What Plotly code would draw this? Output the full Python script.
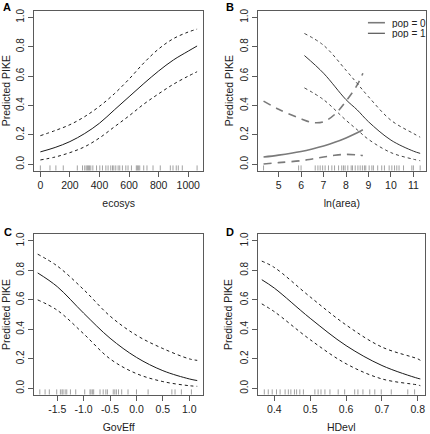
import plotly.graph_objects as go

W, H = 430, 434

# ---------------- data ----------------
# Panel A: ecosys
ecosys_x = [0, 100, 200, 300, 400, 500, 600, 700, 800, 900, 1000, 1060]
ecosys_fit = [0.085, 0.115, 0.155, 0.21, 0.28, 0.37, 0.46, 0.55, 0.635, 0.71, 0.77, 0.805]
ecosys_hi = [0.195, 0.23, 0.27, 0.325, 0.395, 0.48, 0.58, 0.69, 0.785, 0.855, 0.90, 0.92]
ecosys_lo = [0.03, 0.05, 0.08, 0.12, 0.18, 0.255, 0.33, 0.41, 0.48, 0.545, 0.60, 0.63]
ecosys_rug = [0, 65, 105, 155, 250, 285, 300, 310, 318, 325, 332, 341, 355, 380, 402,
              420, 443, 458, 476, 488, 497, 510, 526, 537, 555, 578, 593, 616, 649, 656,
              663, 672, 699, 721, 762, 811, 879, 897, 919, 933, 960, 1060]

# Panel B: ln(area), pop = 1
area1_x = [6.15, 7, 8, 8.5, 9, 10, 11, 11.3]
area1_fit = [0.74, 0.62, 0.44, 0.37, 0.29, 0.165, 0.09, 0.075]
area1_hi = [0.89, 0.81, 0.64, 0.55, 0.46, 0.30, 0.21, 0.185]
area1_lo = [0.52, 0.44, 0.30, 0.235, 0.17, 0.08, 0.035, 0.025]
# Panel B: ln(area), pop = 0
area0_x = [4.33, 5, 6, 6.5, 7, 7.5, 8, 8.5, 8.75]
area0_fit = [0.05, 0.063, 0.088, 0.105, 0.125, 0.15, 0.18, 0.215, 0.235]
area0_hi = [0.43, 0.375, 0.31, 0.285, 0.29, 0.34, 0.43, 0.54, 0.62]
area0_lo = [0.003, 0.012, 0.025, 0.037, 0.05, 0.062, 0.068, 0.064, 0.06]
area_rug = [4.33, 5.89, 6.0, 6.63, 6.75, 6.85, 6.96, 7.07, 7.22, 7.37, 7.49, 7.67, 7.81,
            7.89, 7.96, 8.08, 8.23, 8.29, 8.41, 8.53, 8.63, 8.73, 8.82, 8.88, 9.03, 9.15,
            9.22, 9.41, 9.59, 9.71, 9.92, 10.04, 10.16, 10.26, 10.36, 10.56, 10.93, 11.0, 11.3]

# Panel C: GovEff
gov_x = [-1.87, -1.5, -1.0, -0.5, 0.0, 0.5, 1.0, 1.15]
gov_fit = [0.783, 0.69, 0.51, 0.34, 0.21, 0.12, 0.064, 0.053]
gov_hi = [0.91, 0.83, 0.67, 0.49, 0.36, 0.27, 0.20, 0.19]
gov_lo = [0.60, 0.53, 0.37, 0.20, 0.10, 0.046, 0.018, 0.014]
gov_rug = [-1.83, -1.73, -1.65, -1.51, -1.44, -1.41, -1.39, -1.35, -1.32, -1.25, -1.15,
           -0.98, -0.88, -0.86, -0.83, -0.81, -0.69, -0.63, -0.58, -0.55, -0.44, -0.41,
           -0.38, -0.34, -0.28, -0.16, 0.0, 0.22, 0.67, 0.73, 0.85, 1.04]

# Panel D: HDevl
hd_x = [0.365, 0.4, 0.5, 0.6, 0.7, 0.8, 0.807]
hd_fit = [0.737, 0.68, 0.475, 0.29, 0.155, 0.068, 0.064]
hd_hi = [0.863, 0.82, 0.62, 0.43, 0.28, 0.20, 0.19]
hd_lo = [0.573, 0.52, 0.33, 0.167, 0.064, 0.023, 0.018]
hd_rug = [0.372, 0.383, 0.394, 0.406, 0.416, 0.430, 0.439, 0.446, 0.456, 0.462, 0.471,
          0.481, 0.513, 0.522, 0.530, 0.541, 0.555, 0.578, 0.596, 0.624, 0.633, 0.647,
          0.666, 0.680, 0.698, 0.726, 0.772, 0.791]

y_ticks = [0.0, 0.2, 0.4, 0.6, 0.8, 1.0]
y_ticktext = ["0.0", "0.2", "0.4", "0.6", "0.8", "1.0"]
xA_ticks = [0, 200, 400, 600, 800, 1000]
xB_ticks = [5, 6, 7, 8, 9, 10, 11]
xC_ticks = [-1.5, -1.0, -0.5, 0.0, 0.5, 1.0]
xC_ticktext = ["-1.5", "-1.0", "-0.5", "0.0", "0.5", "1.0"]
xD_ticks = [0.4, 0.5, 0.6, 0.7, 0.8]

panel_letters = ["A", "B", "C", "D"]
x_titles = ["ecosys", "ln(area)", "GovEff", "HDevl"]
y_title = "Predicted PIKE"
legend_labels = ["pop = 0", "pop = 1"]

# ---------------- layout geometry (pixels) ----------------
def xdom(l, r):
    return [l / W, r / W]

def ydom(t, b):
    return [1 - b / H, 1 - t / H]

doms = {
    1: (xdom(34, 203.3), ydom(10.7, 170.7)),
    2: (xdom(257.7, 426), ydom(10.7, 170.7)),
    3: (xdom(34, 203.3), ydom(234.3, 394.7)),
    4: (xdom(257.5, 425), ydom(234.3, 394.7)),
}
xranges = {1: [-43, 1102], 2: [4.07, 11.56], 3: [-1.94, 1.265], 4: [0.353, 0.82]}
YR = [-0.043, 1.045]
RUG_TOP = -0.007

BLACK = "#1a1a1a"
GRAY = "#7a7a7a"
FRAME = "#5a5a5a"
FONT = "Liberation Sans, Arial, sans-serif"
NARROW = "Liberation Sans Narrow, Arial Narrow, Liberation Sans, sans-serif"

fig = go.Figure()

def add_line(i, x, y, color=BLACK, width=1.0, dash="solid"):
    fig.add_trace(go.Scatter(
        x=x, y=y, mode="lines", line=dict(color=color, width=width, dash=dash, shape="spline", smoothing=1.0),
        xaxis="x" if i == 1 else f"x{i}", yaxis="y" if i == 1 else f"y{i}",
        showlegend=False, hoverinfo="skip"))

def add_rug(i, vals):
    xs, ys = [], []
    for v in vals:
        xs += [v, v, None]
        ys += [YR[0], RUG_TOP, None]
    fig.add_trace(go.Scatter(
        x=xs, y=ys, mode="lines", line=dict(color="#8a8a8a", width=0.8),
        xaxis="x" if i == 1 else f"x{i}", yaxis="y" if i == 1 else f"y{i}",
        showlegend=False, hoverinfo="skip"))

SHORT_DASH = "3px,3px"
LONG_DASH = "8px,6px"

# Panel A
add_rug(1, ecosys_rug)
add_line(1, ecosys_x, ecosys_fit)
add_line(1, ecosys_x, ecosys_hi, dash=SHORT_DASH)
add_line(1, ecosys_x, ecosys_lo, dash=SHORT_DASH)

# Panel B
add_rug(2, area_rug)
add_line(2, area0_x, area0_fit, color=GRAY, width=1.6)
add_line(2, area0_x, area0_hi, color=GRAY, width=1.6, dash=LONG_DASH)
add_line(2, area0_x, area0_lo, color=GRAY, width=1.6, dash=LONG_DASH)
add_line(2, area1_x, area1_fit, color="#333333")
add_line(2, area1_x, area1_hi, color="#444444", dash=SHORT_DASH)
add_line(2, area1_x, area1_lo, color="#444444", dash=SHORT_DASH)

# Panel C
add_rug(3, gov_rug)
add_line(3, gov_x, gov_fit)
add_line(3, gov_x, gov_hi, dash=SHORT_DASH)
add_line(3, gov_x, gov_lo, dash=SHORT_DASH)

# Panel D
add_rug(4, hd_rug)
add_line(4, hd_x, hd_fit)
add_line(4, hd_x, hd_hi, dash=SHORT_DASH)
add_line(4, hd_x, hd_lo, dash=SHORT_DASH)

xtick_specs = {
    1: (xA_ticks, [str(v) for v in xA_ticks]),
    2: (xB_ticks, [str(v) for v in xB_ticks]),
    3: (xC_ticks, xC_ticktext),
    4: (xD_ticks, [str(v) for v in xD_ticks]),
}

hfont = dict(family=NARROW, size=10.5, color="#222222")   # horizontal texts
vfont = dict(family=FONT, size=10, color="#222222")       # rotated texts
vtitle_font = dict(family=FONT, size=10.5, color="#222222")
leg_font = dict(family=NARROW, size=10, color="#222222")
layout = dict(
    width=W, height=H, margin=dict(l=0, r=0, t=0, b=0),
    paper_bgcolor="white", plot_bgcolor="white", showlegend=False,
    font=vfont,
)
for i in range(1, 5):
    xd, yd = doms[i]
    xk = "xaxis" if i == 1 else f"xaxis{i}"
    yk = "yaxis" if i == 1 else f"yaxis{i}"
    tv, tt = xtick_specs[i]
    layout[xk] = dict(
        domain=xd, range=xranges[i], anchor="y" if i == 1 else f"y{i}",
        showgrid=False, zeroline=False, showline=True, mirror=True,
        linecolor=FRAME, linewidth=1, ticks="outside", ticklen=5, tickcolor=FRAME,
        tickvals=tv, ticktext=tt, tickfont=hfont, automargin=False,
        title=dict(text=x_titles[i - 1], font=hfont, standoff=9),
    )
    layout[yk] = dict(
        domain=yd, range=YR, anchor="x" if i == 1 else f"x{i}",
        showgrid=False, zeroline=False, showline=True, mirror=True,
        linecolor=FRAME, linewidth=1, ticks="outside", ticklen=5, tickcolor=FRAME,
        tickvals=y_ticks, ticktext=y_ticktext, tickangle=-90, tickfont=vfont,
        automargin=False,
        title=dict(text=y_title, font=vtitle_font, standoff=3),
    )
fig.update_layout(**layout)

# panel letters
letter_pos = [(6.5, 7), (229.5, 7), (7.5, 231.5), (229.5, 231.5)]
for letter, (px, py) in zip(panel_letters, letter_pos):
    fig.add_annotation(text=f"<b>{letter}</b>", x=px / W, y=1 - py / H, xref="paper", yref="paper",
                       showarrow=False, xanchor="center", yanchor="middle",
                       font=dict(family=FONT, size=11, color="black"))

# legend for panel B
leg_rows = [(0.925, GRAY, 1.6), (0.859, "#333333", 1.0)]
for label, (yy, col, wd) in zip(legend_labels, leg_rows):
    fig.add_shape(type="line", xref="x2 domain", yref="y2 domain",
                  x0=0.655, x1=0.756, y0=yy, y1=yy, line=dict(color=col, width=wd))
    fig.add_annotation(text=label, xref="x2 domain", yref="y2 domain", x=0.79, y=yy,
                       showarrow=False, xanchor="left", yanchor="middle", font=leg_font,
                       height=10, borderpad=0, valign="middle")

fig.write_html(
    "out.html",
    config={"displayModeBar": False, "staticPlot": True},
    post_script="document.body.style.margin='0';document.body.style.padding='0';"
                "document.body.style.overflow='hidden';",
)
